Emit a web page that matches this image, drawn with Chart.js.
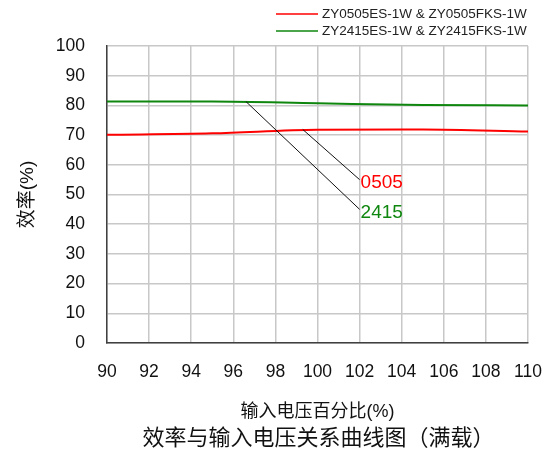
<!DOCTYPE html>
<html>
<head>
<meta charset="utf-8">
<script src="https://cdn.jsdelivr.net/npm/chart.js@4"></script>
<style>
  html, body { margin: 0; padding: 0; background: #fff; }
</style>
</head>
<body>
<canvas id="effChart" width="554" height="457"></canvas>
<script>
// chart data
const inputPct = [90, 95, 100, 105, 110];
const eff0505 = [70.1, 70.6, 71.8, 71.9, 71.2];
const eff2415 = [81.3, 81.3, 80.7, 80.1, 80.0];
const seriesNames = ['ZY0505ES-1W & ZY0505FKS-1W', 'ZY2415ES-1W & ZY2415FKS-1W'];
const seriesColors = ['#ff0000', '#0f870f'];
const yTicks = [0, 10, 20, 30, 40, 50, 60, 70, 80, 90, 100];
const chartTitle = '效率与输入电压关系曲线图（满载）';

// callout labels: [text, from x, from y, to x, to y] in data units
const callouts = [
  ['0505', 99.3, 71.9, 102, 55],
  ['2415', 96.6, 81.3, 102, 45]
];

const FONT = "'Liberation Sans', Arial, 'Noto Sans CJK SC', sans-serif";

const toPoints = (ys) => inputPct.map((x, i) => ({ x: x, y: ys[i] }));

// legend in the top right corner + title centred under the plot
const extras = {
  id: 'extras',
  afterDraw(chart) {
    const { ctx, chartArea } = chart;
    ctx.save();
    ctx.font = '13.5px ' + FONT;
    ctx.textBaseline = 'middle';
    chart.data.datasets.forEach((ds, i) => {
      const y = 14 + i * 17;
      ctx.strokeStyle = ds.borderColor;
      ctx.lineWidth = 1.5;
      ctx.beginPath();
      ctx.moveTo(276, y);
      ctx.lineTo(318, y);
      ctx.stroke();
      ctx.fillStyle = '#222';
      ctx.fillText(ds.label, 322, y);
    });

    ctx.font = '22px ' + FONT;
    ctx.textAlign = 'center';
    ctx.fillStyle = '#111';
    ctx.fillText(chartTitle, (chartArea.left + chartArea.right) / 2 + 1, 439);
    ctx.restore();
  }
};

// leader lines with the model numbers
const leaderLines = {
  id: 'leaderLines',
  afterDatasetsDraw(chart) {
    const { ctx, scales: { x, y } } = chart;
    ctx.save();
    ctx.font = '19px ' + FONT;
    ctx.textBaseline = 'middle';
    callouts.forEach((c, i) => {
      const x0 = x.getPixelForValue(c[1]), y0 = y.getPixelForValue(c[2]);
      const x1 = x.getPixelForValue(c[3]), y1 = y.getPixelForValue(c[4]);
      ctx.strokeStyle = '#111';
      ctx.lineWidth = 1;
      ctx.beginPath();
      ctx.moveTo(x0, y0);
      ctx.lineTo(x1, y1);
      ctx.stroke();
      ctx.fillStyle = seriesColors[i];
      ctx.fillText(c[0], x1 + 1, y1 + 3);
    });
    ctx.restore();
  }
};

new Chart(document.getElementById('effChart').getContext('2d'), {
  type: 'line',
  data: {
    datasets: [
      {
        label: seriesNames[0],
        data: toPoints(eff0505),
        borderColor: seriesColors[0],
        backgroundColor: seriesColors[0],
        borderWidth: 2,
        pointRadius: 0,
        cubicInterpolationMode: 'monotone'
      },
      {
        label: seriesNames[1],
        data: toPoints(eff2415),
        borderColor: seriesColors[1],
        backgroundColor: seriesColors[1],
        borderWidth: 2,
        pointRadius: 0,
        cubicInterpolationMode: 'monotone'
      }
    ]
  },
  options: {
    responsive: false,
    animation: false,
    layout: { padding: { top: 46, right: 26, left: 0, bottom: 32 } },
    plugins: {
      legend: { display: false },
      tooltip: { enabled: false },
      title: { display: false }
    },
    scales: {
      x: {
        type: 'linear',
        min: 90,
        max: 110,
        ticks: { stepSize: 2, color: '#111', padding: 0, font: { family: FONT, size: 17.5 } },
        grid: { color: '#c8c8c8', lineWidth: 1.5, drawTicks: true, tickLength: 19, tickColor: 'rgba(0,0,0,0)' },
        border: { color: '#404040', width: 1.5 },
        title: {
          display: true,
          text: '输入电压百分比(%)',
          color: '#111',
          font: { family: FONT, size: 18 },
          padding: { top: 0, bottom: 2 }
        },
        afterFit(scale) { scale.height = 82; }
      },
      y: {
        min: 0,
        max: 100,
        afterBuildTicks(scale) { scale.ticks = yTicks.map(v => ({ value: v })); },
        ticks: { color: '#111', padding: 22, font: { family: FONT, size: 17.5 } },
        grid: { color: '#c8c8c8', lineWidth: 1.5, drawTicks: false },
        border: { color: '#404040', width: 1.5 },
        title: {
          display: true,
          text: '效率(%)',
          color: '#111',
          font: { family: FONT, size: 19 },
          padding: { top: 16, bottom: 0 }
        },
        afterFit(scale) { scale.width = 107; }
      }
    }
  },
  plugins: [extras, leaderLines]
});
</script>
</body>
</html>
